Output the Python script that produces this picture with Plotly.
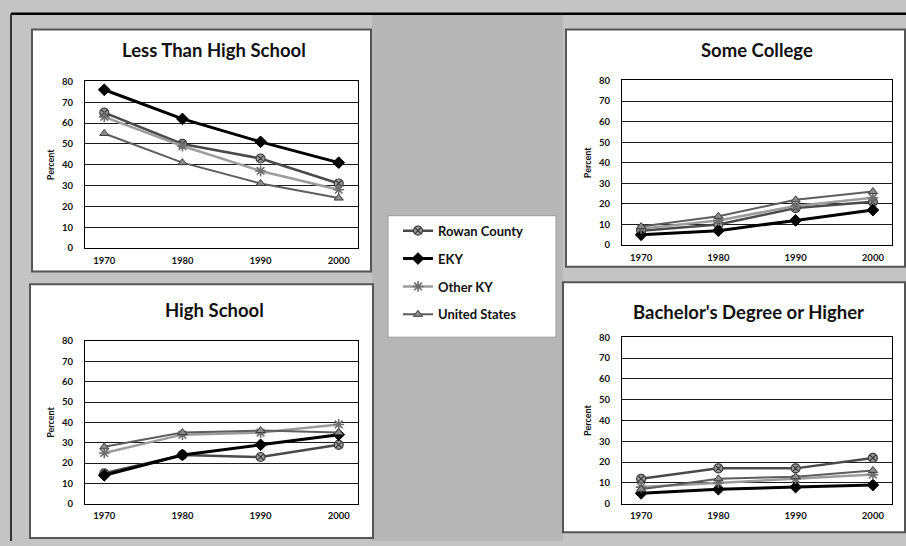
import plotly.graph_objects as go

W, H = 906, 546

years = ["1970", "1980", "1990", "2000"]
series_names = ["Rowan County", "EKY", "Other KY", "United States"]

# Percent of adults by educational attainment
rowan_less_hs = [65, 50, 43, 31]
eky_less_hs = [76, 62, 51, 41]
otherky_less_hs = [63, 49, 37, 28]
us_less_hs = [55, 41, 31, 24]

rowan_some_college = [7, 10, 18, 21]
eky_some_college = [5, 7, 12, 17]
otherky_some_college = [8, 12, 19, 23]
us_some_college = [9, 14, 22, 26]

rowan_high_school = [15, 24, 23, 29]
eky_high_school = [14, 24, 29, 34]
otherky_high_school = [25, 34, 35, 39]
us_high_school = [28, 35, 36, 35]

rowan_bachelors = [12, 17, 17, 22]
eky_bachelors = [5, 7, 8, 9]
otherky_bachelors = [8, 10, 12, 14]
us_bachelors = [7, 12, 13, 16]

panel_titles = ["Less Than High School", "Some College", "High School",
                "Bachelor's Degree or Higher"]
y_ticks = [0, 10, 20, 30, 40, 50, 60, 70, 80]

panels = [
    [rowan_less_hs, eky_less_hs, otherky_less_hs, us_less_hs],
    [rowan_some_college, eky_some_college, otherky_some_college, us_some_college],
    [rowan_high_school, eky_high_school, otherky_high_school, us_high_school],
    [rowan_bachelors, eky_bachelors, otherky_bachelors, us_bachelors],
]

# pixel geometry helpers
def px_x(x0, x1):
    return [x0 / W, x1 / W]

def px_y(y0, y1):
    return [1 - y1 / H, 1 - y0 / H]

plot_boxes = [  # x0, x1, y0(top), y1(bottom) in pixels
    (85, 358, 77, 247),
    (622, 892, 76, 244),
    (85, 358, 342, 508),
    (622, 892, 338, 508),
]
panel_boxes = [
    (32, 371, 24, 271),
    (566, 905, 24, 266),
    (30, 373, 284, 543),
    (563, 905, 282, 537),
]
title_pos = [(214, 45), (757, 45), (214, 310), (748, 312)]

styles = [
    dict(line=dict(color="#4a4a4a", width=2.5),
         marker=dict(symbol="circle-x", size=9, color="#9a9a9a",
                     line=dict(color="#3a3a3a", width=1.2))),
    dict(line=dict(color="#000000", width=3),
         marker=dict(symbol="diamond", size=9, color="#000000",
                     line=dict(color="#000000", width=1))),
    dict(line=dict(color="#9c9c9c", width=2.5),
         marker=dict(symbol="asterisk-open", size=9, color="#6e6e6e",
                     line=dict(color="#6e6e6e", width=1.6))),
    dict(line=dict(color="#5e5e5e", width=2),
         marker=dict(symbol="triangle-up", size=8, color="#8a8a8a",
                     line=dict(color="#3e3e3e", width=1))),
]

FONT = "Lato"
fig = go.Figure()

for p, data in enumerate(panels):
    ax = "" if p == 0 else str(p + 1)
    for s, vals in enumerate(data):
        fig.add_trace(go.Scatter(
            x=years, y=vals, name=series_names[s], mode="lines+markers",
            xaxis="x" + ax, yaxis="y" + ax,
            line=styles[s]["line"], marker=styles[s]["marker"],
            showlegend=(p == 0), legendgroup=series_names[s],
        ))
    x0, x1, y0, y1 = plot_boxes[p]
    fig.layout["xaxis" + ax] = dict(
        domain=px_x(x0, x1), anchor="y" + ax, type="category",
        showline=True, linecolor="#000", linewidth=1.2, mirror=True,
        ticks="", showgrid=False, zeroline=False, fixedrange=True,
        tickfont=dict(family=FONT, size=9.5, color="#111", weight="bold"),
        ticklabelstandoff=3,
    )
    fig.layout["yaxis" + ax] = dict(
        domain=px_y(y0, y1), anchor="x" + ax, range=[0, 80],
        tickvals=y_ticks, showline=True, linecolor="#000", linewidth=1.2,
        mirror=True, ticks="", showgrid=True, gridcolor="#1a1a1a",
        gridwidth=1, zeroline=False, fixedrange=True,
        tickfont=dict(family=FONT, size=9.5, color="#111", weight="bold"),
        ticklabelstandoff=9,
        title=dict(text="Percent", standoff=5,
                   font=dict(family=FONT, size=9, color="#111", weight="bold")),
    )

shapes = [
    # page background tones
    dict(type="rect", xref="paper", yref="paper", x0=372 / W, x1=563 / W,
         y0=0, y1=1 - 8 / H, fillcolor="#b6b6b6", line=dict(width=0), layer="below"),
    dict(type="line", xref="paper", yref="paper", x0=11 / W, x1=1,
         y0=1 - 8 / H, y1=1 - 8 / H, line=dict(color="#000", width=2.5)),
    dict(type="line", xref="paper", yref="paper", x0=11 / W, x1=11 / W,
         y0=0, y1=1 - 8 / H, line=dict(color="#333", width=2)),
]
for (x0, x1, y0, y1) in panel_boxes:
    shapes.append(dict(type="rect", xref="paper", yref="paper",
                       x0=x0 / W, x1=x1 / W, y0=1 - y1 / H, y1=1 - y0 / H,
                       fillcolor="#ffffff", line=dict(color="#555", width=2),
                       layer="below"))
# legend panel
shapes.append(dict(type="rect", xref="paper", yref="paper",
                   x0=388 / W, x1=556 / W, y0=1 - 338 / H, y1=1 - 214 / H,
                   fillcolor="#ffffff", line=dict(color="#9a9a9a", width=1),
                   layer="below"))

annotations = []
for t, (cx, cy) in zip(panel_titles, title_pos):
    annotations.append(dict(text=t, x=cx / W, y=1 - cy / H, xref="paper",
                            yref="paper", showarrow=False, xanchor="center",
                            yanchor="middle",
                            font=dict(family=FONT, size=18.5, color="#111",
                                      weight="bold")))

fig.update_layout(
    width=W, height=H, margin=dict(l=0, r=0, t=0, b=0),
    paper_bgcolor="#c4c4c4", plot_bgcolor="#ffffff",
    shapes=shapes, annotations=annotations,
    legend=dict(x=398 / W, y=1 - 214 / H, xanchor="left", yanchor="top",
                bgcolor="rgba(0,0,0,0)", tracegroupgap=8,
                font=dict(family=FONT, size=13, color="#111", weight="bold"),
                itemwidth=30),
    showlegend=True,
)

fig.write_html("out.html")
